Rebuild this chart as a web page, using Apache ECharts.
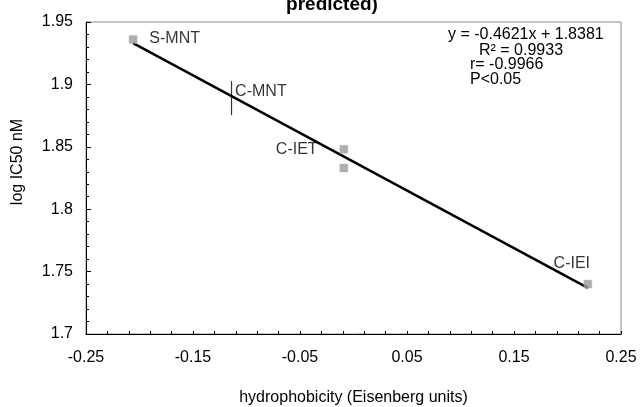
<!DOCTYPE html>
<html>
<head>
<meta charset="utf-8">
<script src="https://cdn.jsdelivr.net/npm/echarts@6/dist/echarts.min.js"></script>
<style>
html,body{margin:0;padding:0;background:#fff;}
#chart{width:640px;height:407px;}
</style>
</head>
<body>
<div id="chart"></div>
<script>
// ---- data ----
const pointNames = ['S-MNT', 'C-MNT', 'C-IET', '', 'C-IEI'];
const hydrophobicity = [-0.206, -0.114, -0.009, -0.009, 0.219];
const logIC50 = [1.936, 1.889, 1.848, 1.833, 1.740];
// regression line end points
const fitX = [-0.206, 0.219];
const fitY = [1.933, 1.737];
const xLabelTicks = [-0.25, -0.15, -0.05, 0.05, 0.15, 0.25];
const annotationLines = ['y = -0.4621x + 1.8381', 'R\u00b2 = 0.9933', 'r= -0.9966', 'P<0.05'];
const titleText = 'predicted)';
const xTitle = 'hydrophobicity (Eisenberg units)';
const yTitle = 'log IC50 nM';

// minor tick positions every 0.02 starting at -0.25
const xTickValues = [];
for (let i = 0; i <= 25; i++) xTickValues.push(+(-0.25 + i * 0.02).toFixed(2));

// ---- per-point label styles ----
const labelStyles = [
  { position: 'right', distance: 12, offset: [0, -1] },
  { position: 'right', distance: 3, offset: [0, -7] },
  { position: 'left', distance: 22, offset: [0, 0] },
  { show: false },
  { position: 'top', distance: 8, offset: [-16, 0] }
];
const symbolStyles = [
  { symbol: 'rect', symbolSize: 8 },
  { symbol: 'path://M0,0L1,0L1,34L0,34Z', symbolSize: [1.2, 34], itemStyle: { color: '#000', borderWidth: 0 } },
  { symbol: 'rect', symbolSize: 8 },
  { symbol: 'rect', symbolSize: 8 },
  { symbol: 'rect', symbolSize: 8 }
];

const pointData = pointNames.map((n, i) => Object.assign({
  name: n,
  value: [hydrophobicity[i], logIC50[i]],
  label: Object.assign({ show: n !== '', formatter: n }, labelStyles[i])
}, symbolStyles[i]));

const fitData = fitX.map((x, i) => [x, fitY[i]]);

const font = 'Liberation Sans, Arial, sans-serif';
const fs = 16;
const chart = echarts.init(document.getElementById('chart'), null, { renderer: 'canvas' });
chart.setOption({
  animation: false,
  backgroundColor: '#fff',
  textStyle: { fontFamily: font },
  grid: { left: 86, right: 19, top: 22, bottom: 73, outerBoundsMode: 'none', containLabel: false,
    show: true, borderColor: '#8a8a8a', borderWidth: 1 },
  xAxis: {
    type: 'value', min: -0.25, max: 0.25, interval: 0.05,
    axisLine: { show: true, onZero: false, lineStyle: { color: '#000', width: 1 } },
    axisTick: { show: true, inside: true, length: 3, customValues: xTickValues, lineStyle: { color: '#000' } },
    axisLabel: { customValues: xLabelTicks, color: '#000', fontSize: fs, fontFamily: font, margin: 16,
      formatter: v => String(+v.toFixed(2)) },
    splitLine: { show: false },
    name: xTitle, nameLocation: 'middle', nameGap: 56,
    nameTextStyle: { color: '#000', fontSize: fs, fontFamily: font }
  },
  yAxis: {
    type: 'value', min: 1.7, max: 1.95, interval: 0.05,
    axisLine: { show: true, onZero: false, lineStyle: { color: '#000', width: 1 } },
    axisTick: { show: true, inside: true, length: 5, lineStyle: { color: '#000' } },
    minorTick: { show: true, splitNumber: 5, length: 3, lineStyle: { color: '#000' } },
    axisLabel: { color: '#000', fontSize: fs, fontFamily: font, margin: 13,
      formatter: v => String(+v.toFixed(2)) },
    splitLine: { show: false }
  },
  graphic: [
    { type: 'text', x: 332, y: 5, style: { text: titleText, font: 'bold 19px ' + font, fill: '#000', align: 'center', verticalAlign: 'middle' } },
    { type: 'text', x: 18, y: 162, rotation: Math.PI / 2,
      style: { text: yTitle, font: '16px ' + font, fill: '#000', align: 'center', verticalAlign: 'middle' } },
    { type: 'text', x: 448, y: 35, style: { text: annotationLines[0], font: fs + 'px ' + font, fill: '#000', verticalAlign: 'middle' } },
    { type: 'text', x: 479, y: 51, style: { text: annotationLines[1], font: fs + 'px ' + font, fill: '#000', verticalAlign: 'middle' } },
    { type: 'text', x: 470, y: 65, style: { text: annotationLines[2], font: fs + 'px ' + font, fill: '#000', verticalAlign: 'middle' } },
    { type: 'text', x: 470, y: 80, style: { text: annotationLines[3], font: fs + 'px ' + font, fill: '#000', verticalAlign: 'middle' } }
  ],
  series: [
    {
      type: 'line', data: fitData, symbol: 'none', z: 3,
      lineStyle: { color: '#000', width: 2.5 }
    },
    {
      type: 'scatter', data: pointData, z: 4,
      itemStyle: { color: '#9a9a9a', borderColor: '#b5b5b5', borderWidth: 0.5 },
      label: { color: '#000', fontSize: fs, fontFamily: font }
    }
  ]
});
</script>
</body>
</html>
